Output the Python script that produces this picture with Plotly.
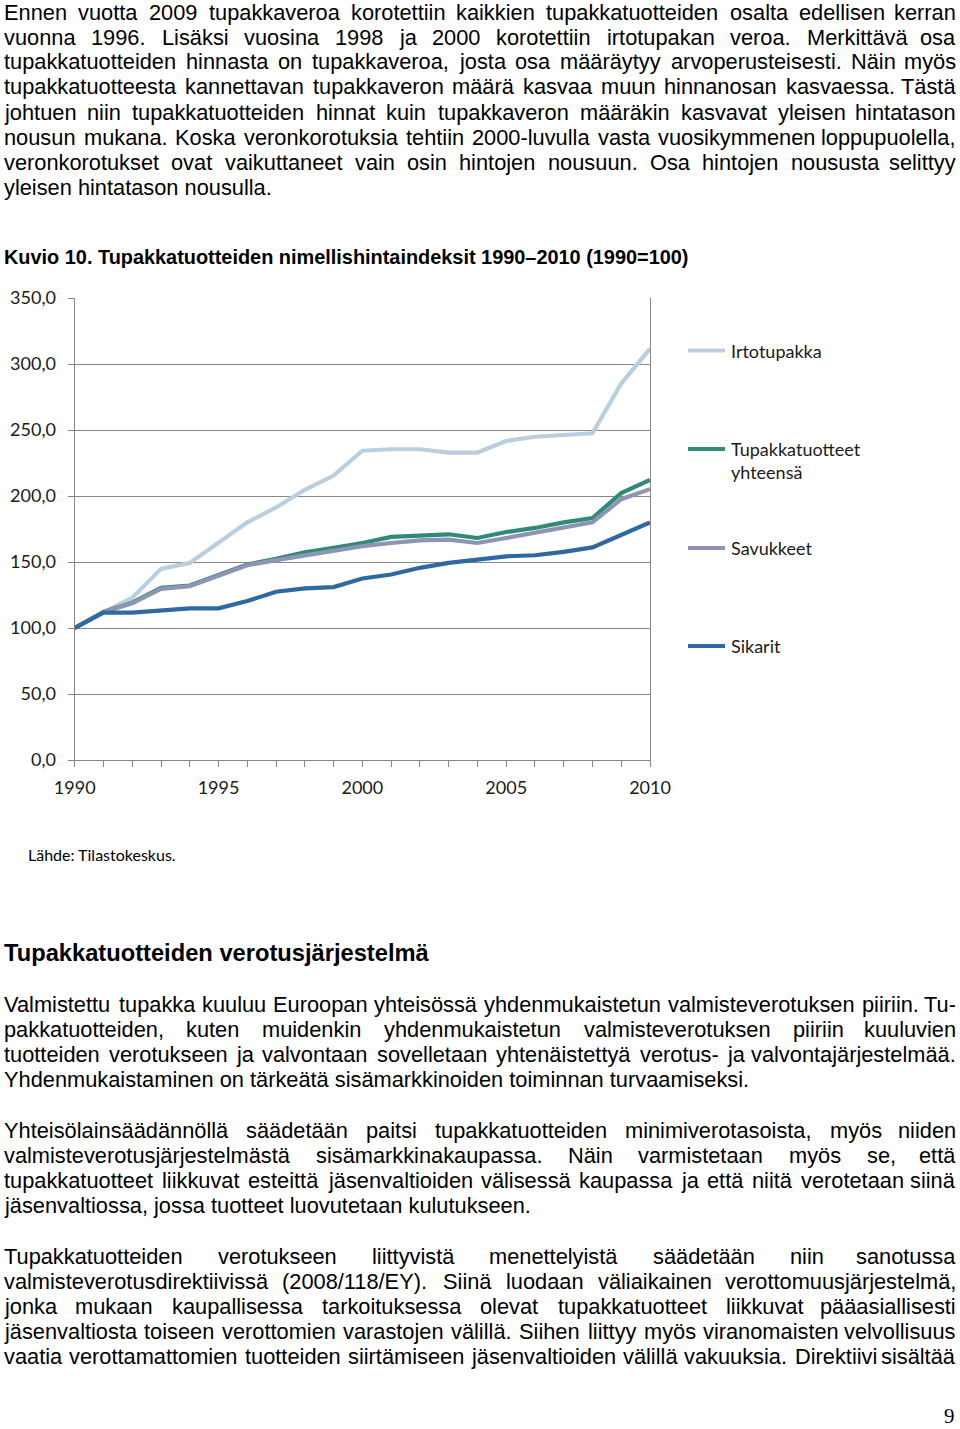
import plotly.graph_objects as go

# ---------------- data ----------------
years = list(range(1990, 2011))
irtotupakka = [100, 112.1, 122.9, 144.8, 149.3, 164.4, 180.0, 191.3, 204.7, 215.5, 234.3,
               235.4, 235.4, 232.9, 232.9, 241.7, 244.9, 246.2, 247.5, 285.2, 311.6]
yhteensa = [100, 112.1, 119.2, 130.5, 132.2, 140.5, 148.1, 152.4, 157.4, 160.7, 164.4,
            169.0, 170.0, 171.0, 168.2, 172.7, 175.8, 180.0, 183.3, 202.2, 212.2]
savukkeet = [100, 112.1, 118.7, 129.7, 131.7, 140.0, 147.6, 151.4, 154.9, 158.9, 162.0,
             164.4, 166.4, 167.0, 164.4, 168.2, 172.0, 176.2, 180.0, 197.6, 205.2]
sikarit = [100, 111.6, 111.6, 113.6, 114.9, 114.9, 120.4, 127.5, 130.0, 131.0, 137.5,
           140.5, 145.6, 149.3, 151.8, 154.3, 155.1, 157.7, 161.1, 170.7, 180.0]

series_names = ["Irtotupakka", "Tupakkatuotteet<br>yhteensä", "Savukkeet", "Sikarit"]
series_colors = ["#b9cfe0", "#2f8a78", "#8e94b4", "#2e69a2"]

y_tick_vals = [0, 50, 100, 150, 200, 250, 300, 350]
y_tick_text = ["0,0", "50,0", "100,0", "150,0", "200,0", "250,0", "300,0", "350,0"]
x_tick_vals = [1990, 1995, 2000, 2005, 2010]
x_tick_text = ["1990", "1995", "2000", "2005", "2010"]

para1 = [
    "Ennen vuotta 2009 tupakkaveroa korotettiin kaikkien tupakkatuotteiden osalta edellisen kerran",
    "vuonna 1996. Lisäksi vuosina 1998 ja 2000 korotettiin irtotupakan veroa. Merkittävä osa",
    "tupakkatuotteiden hinnasta on tupakkaveroa, josta osa määräytyy arvoperusteisesti. Näin myös",
    "tupakkatuotteesta kannettavan tupakkaveron määrä kasvaa muun hinnanosan kasvaessa. Tästä",
    "johtuen niin tupakkatuotteiden hinnat kuin tupakkaveron määräkin kasvavat yleisen hintatason",
    "nousun mukana. Koska veronkorotuksia tehtiin 2000-luvulla vasta vuosikymmenen loppupuolella,",
    "veronkorotukset ovat vaikuttaneet vain osin hintojen nousuun. Osa hintojen noususta selittyy",
    "yleisen hintatason nousulla.",
]
para2 = [
    "Valmistettu tupakka kuuluu Euroopan yhteisössä yhdenmukaistetun valmisteverotuksen piiriin. Tu-",
    "pakkatuotteiden, kuten muidenkin yhdenmukaistetun valmisteverotuksen piiriin kuuluvien",
    "tuotteiden verotukseen ja valvontaan sovelletaan yhtenäistettyä verotus- ja valvontajärjestelmää.",
    "Yhdenmukaistaminen on tärkeätä sisämarkkinoiden toiminnan turvaamiseksi.",
]
para3 = [
    "Yhteisölainsäädännöllä säädetään paitsi tupakkatuotteiden minimiverotasoista, myös niiden",
    "valmisteverotusjärjestelmästä sisämarkkinakaupassa. Näin varmistetaan myös se, että",
    "tupakkatuotteet liikkuvat esteittä jäsenvaltioiden välisessä kaupassa ja että niitä verotetaan siinä",
    "jäsenvaltiossa, jossa tuotteet luovutetaan kulutukseen.",
]
para4 = [
    "Tupakkatuotteiden verotukseen liittyvistä menettelyistä säädetään niin sanotussa",
    "valmisteverotusdirektiivissä (2008/118/EY). Siinä luodaan väliaikainen verottomuusjärjestelmä,",
    "jonka mukaan kaupallisessa tarkoituksessa olevat tupakkatuotteet liikkuvat pääasiallisesti",
    "jäsenvaltiosta toiseen verottomien varastojen välillä. Siihen liittyy myös viranomaisten velvollisuus",
    "vaatia verottamattomien tuotteiden siirtämiseen jäsenvaltioiden välillä vakuuksia. Direktiivi sisältää",
]
chart_title = "Kuvio 10. Tupakkatuotteiden nimellishintaindeksit 1990–2010 (1990=100)"
heading2 = "Tupakkatuotteiden verotusjärjestelmä"
source_text = "Lähde: Tilastokeskus."
page_number = "9"

# ---------------- page geometry ----------------
W, H = 960, 1429


def px(x):
    return x / W


def py(y):
    return 1 - y / H


# Arial / Liberation Sans advance widths (1/1000 em)
AW = {' ': 278, '.': 278, ',': 278, '-': 333, '(': 333, ')': 333, '/': 278, ':': 278, '–': 556, '=': 584}
for ch in "0123456789":
    AW[ch] = 556
for ch, w in zip("abcdefghijklmnopqrstuvwxyz",
                 [556, 556, 500, 556, 556, 278, 556, 556, 222, 222, 500, 222, 833, 556, 556, 556, 556,
                  333, 500, 278, 556, 500, 722, 500, 500, 500]):
    AW[ch] = w
for ch, w in zip("ABCDEFGHIJKLMNOPQRSTUVWXYZ",
                 [667, 667, 722, 722, 667, 611, 778, 722, 278, 500, 667, 556, 833, 722, 778, 667, 778,
                  722, 667, 611, 722, 667, 944, 667, 667, 611]):
    AW[ch] = w
AW['ä'] = 556
AW['ö'] = 556
AW['Ä'] = 667
AW['Ö'] = 778


def tw(s, size):
    return sum(AW.get(c, 556) for c in s) * size / 1000.0


annotations = []
TEXT_FONT = "Liberation Sans, Arial, Helvetica, sans-serif"
BODY_SIZE = 21.8
LEFT, RIGHT = 3, 957


def add_line(line, y, justify):
    words = line.split(" ")
    if not justify or len(words) == 1:
        annotations.append(dict(x=px(LEFT), y=py(y), xref="paper", yref="paper", text=line,
                                showarrow=False, xanchor="left", yanchor="middle", borderpad=0,
                                font=dict(family=TEXT_FONT, size=BODY_SIZE, color="#000000")))
        return
    widths = [tw(w, BODY_SIZE) for w in words]
    gap = (RIGHT - LEFT - sum(widths)) / (len(words) - 1)
    x = LEFT
    for i, w in enumerate(words):
        last = i == len(words) - 1
        annotations.append(dict(x=px(RIGHT if last else x), y=py(y), xref="paper", yref="paper",
                                text=w, showarrow=False, xanchor="right" if last else "left",
                                yanchor="middle", borderpad=0,
                                font=dict(family=TEXT_FONT, size=BODY_SIZE, color="#000000")))
        x += widths[i] + gap


def add_paragraph(lines, y0, last_justified=False):
    for k, line in enumerate(lines):
        is_last = k == len(lines) - 1
        add_line(line, y0 + 25 * k, justify=(not is_last) or last_justified)


add_paragraph(para1, 12)
add_paragraph(para2, 1004)
add_paragraph(para3, 1130)
add_paragraph(para4, 1256, last_justified=True)

annotations.append(dict(x=px(3), y=py(257), xref="paper", yref="paper", text="<b>" + chart_title + "</b>",
                        showarrow=False, xanchor="left", yanchor="middle", borderpad=0,
                        font=dict(family="Liberation Sans, Arial, sans-serif", size=19.9,
                                  color="#000000")))
annotations.append(dict(x=px(3), y=py(953), xref="paper", yref="paper", text="<b>" + heading2 + "</b>",
                        showarrow=False, xanchor="left", yanchor="middle", borderpad=0,
                        font=dict(family=TEXT_FONT, size=23.7, color="#000000")))
annotations.append(dict(x=px(27), y=py(854), xref="paper", yref="paper", text=source_text,
                        showarrow=False, xanchor="left", yanchor="middle", borderpad=0,
                        font=dict(family="Lato, sans-serif", size=16, color="#000000")))
annotations.append(dict(x=px(956), y=py(1416), xref="paper", yref="paper", text=page_number,
                        showarrow=False, xanchor="right", yanchor="middle", borderpad=0,
                        font=dict(family="Liberation Serif, Times New Roman, serif", size=21,
                                  color="#000000")))

# ---------------- chart ----------------
fig = go.Figure()
all_series = [irtotupakka, yhteensa, savukkeet, sikarit]
for name, vals, col in zip(series_names, all_series, series_colors):
    fig.add_trace(go.Scatter(x=years, y=vals, mode="lines", name=name.replace("<br>", " "),
                             line=dict(color=col, width=4.2), showlegend=False, cliponaxis=False))

# custom legend (sample line + label)
legend_y = [350.5, 449, 548, 646]
shapes = []
for (name, col, ly) in zip(series_names, series_colors, legend_y):
    shapes.append(dict(type="line", xref="paper", yref="paper", x0=px(688), x1=px(725), y0=py(ly), y1=py(ly),
                       line=dict(color=col, width=4.2)))
    annotations.append(dict(x=px(730), y=py(ly), xref="paper", yref="paper", text=name,
                            showarrow=False, xanchor="left", yanchor="top" if "<br>" in name else "middle",
                            yshift=12 if "<br>" in name else 0, align="left", borderpad=0,
                            font=dict(family="Lato, sans-serif", size=18, color="#1a1a1a")))

GRID = "#878787"
fig.update_layout(
    width=W, height=H, autosize=False,
    margin=dict(l=0, r=0, t=0, b=0, pad=0),
    paper_bgcolor="white", plot_bgcolor="white",
    showlegend=False,
    annotations=annotations, shapes=shapes,
    xaxis=dict(domain=[px(74.7), px(650)], range=[1990, 2010], automargin=False,
               tickvals=x_tick_vals, ticktext=x_tick_text,
               ticks="outside", ticklen=6, tickcolor=GRID, tickwidth=1.2,
               minor=dict(dtick=1, tick0=1990, ticks="outside", ticklen=6, tickcolor=GRID, tickwidth=1.2),
               showline=True, linecolor=GRID, linewidth=1.3, showgrid=False, zeroline=False,
               ticklabelstandoff=5,
               tickfont=dict(family="Lato, sans-serif", size=18, color="#1a1a1a")),
    yaxis=dict(domain=[py(760), py(298)], range=[0, 350], automargin=False,
               tickvals=y_tick_vals, ticktext=y_tick_text,
               ticks="outside", ticklen=6, tickcolor=GRID, tickwidth=1.2,
               showline=True, mirror=True, linecolor=GRID, linewidth=1.3,
               showgrid=True, gridcolor=GRID, gridwidth=1.3, zeroline=False,
               ticklabelstandoff=8,
               tickfont=dict(family="Lato, sans-serif", size=18, color="#1a1a1a")),
)

fig.write_html(
    "out.html",
    config={"displayModeBar": False},
    post_script="document.body.style.margin='0px';document.body.style.padding='0px';"
                "document.body.style.overflow='hidden';",
)
